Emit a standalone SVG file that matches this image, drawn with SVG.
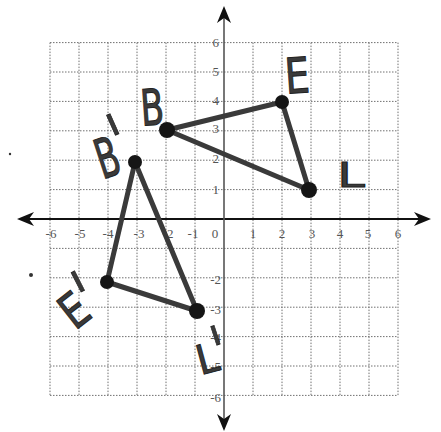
<svg xmlns="http://www.w3.org/2000/svg" width="441" height="432" viewBox="0 0 441 432">
<style>
.grid{stroke:#707070;stroke-width:1;stroke-dasharray:1.5 1.5;fill:none}
.edge{stroke:#3a3a3a;stroke-width:5;stroke-linecap:round;fill:none}
.vtx{fill:#151515}
.tick{font-family:"Liberation Serif",serif;font-size:13px;fill:#555}
.hand{font-family:"DejaVu Sans",sans-serif;fill:#3a3a3a;stroke:#222;stroke-width:1;text-anchor:middle}
.axis{stroke:#111;stroke-width:2}
.arrow{fill:#111}
</style>
<rect width="441" height="432" fill="#fff"/>
<g id="grid">
<path class="grid" d="M50 42.6V395.4M79 42.6V395.4M108 42.6V395.4M137 42.6V395.4M166 42.6V395.4M195 42.6V395.4M253 42.6V395.4M282 42.6V395.4M311 42.6V395.4M340 42.6V395.4M369 42.6V395.4M398 42.6V395.4"/>
<path class="grid" d="M50 42.6H398M50 72H398M50 101.4H398M50 130.8H398M50 160.2H398M50 189.6H398M50 248.4H398M50 277.8H398M50 307.2H398M50 336.6H398M50 366H398M50 395.4H398"/>
</g>
<g id="ticks" class="tick">
<g text-anchor="middle">
<text x="51" y="238">-6</text><text x="80" y="238">-5</text><text x="108" y="238">-4</text><text x="139" y="238">-3</text><text x="168" y="238">-2</text><text x="193" y="238">-1</text><text x="215" y="238">0</text>
<text x="253" y="238">1</text><text x="282" y="238">2</text><text x="312" y="238">3</text><text x="340" y="238">4</text><text x="368" y="238">5</text><text x="398" y="238">6</text>
</g>
<g text-anchor="end">
<text x="219" y="47">6</text><text x="219" y="76">5</text><text x="219" y="105">4</text><text x="219" y="133">3</text><text x="219" y="163">2</text><text x="219" y="194">1</text>
<text x="221" y="284">-2</text><text x="221" y="314">-3</text><text x="221" y="342">-4</text><text x="221" y="371">-5</text><text x="221" y="402">-6</text>
</g>
</g>
<g id="axes">
<line class="axis" x1="26" y1="219" x2="422" y2="219"/>
<polygon class="arrow" points="17,219 34,212 29,219 34,226"/>
<polygon class="arrow" points="431,219 414,212 419,219 414,226"/>
<line x1="224" y1="14" x2="224" y2="424" stroke="#555" stroke-width="1.6"/>
<polygon class="arrow" points="224,6 217,23 224,18 231,23"/>
<polygon class="arrow" points="224,431 217,414 224,419 231,414"/>
</g>
<g id="connectors">
<line class="edge" x1="167" y1="130" x2="282" y2="102"/>
<line class="edge" x1="282" y1="102" x2="309" y2="190"/>
<line class="edge" x1="309" y1="190" x2="167" y2="130"/>
<line class="edge" x1="135" y1="162" x2="107" y2="282"/>
<line class="edge" x1="107" y1="282" x2="197" y2="311"/>
<line class="edge" x1="197" y1="311" x2="135" y2="162"/>
</g>
<g id="B"><circle class="vtx" cx="167" cy="130" r="8"/></g>
<g id="E"><circle class="vtx" cx="282" cy="102" r="7"/></g>
<g id="L"><circle class="vtx" cx="309" cy="190" r="8"/></g>
<g id="B-prime"><circle class="vtx" cx="135" cy="162" r="7"/></g>
<g id="E-prime"><circle class="vtx" cx="107" cy="282" r="7"/></g>
<g id="L-prime"><circle class="vtx" cx="197" cy="311" r="8"/></g>
<g id="labels">
<text class="hand" font-size="50" transform="translate(152,107) rotate(-4) scale(0.68,1)" y="18">B</text>
<text class="hand" font-size="49" transform="translate(297,75) rotate(-4) scale(0.8,1)" y="18">E</text>
<text class="hand" font-size="33" transform="translate(351,175) scale(1.5,1)" y="12">L</text>
<g id="label-B-prime">
<text class="hand" font-size="55" transform="translate(107,157) rotate(-18) scale(0.6,1)" y="20">B</text>
<text class="hand" font-size="80" transform="translate(112,123) rotate(-24) scale(0.6,1)" y="49">'</text>
</g>
<g id="label-E-prime">
<text class="hand" font-size="48" transform="translate(74,310) rotate(-38) scale(0.8,1)" y="17">E</text>
<text class="hand" font-size="80" transform="translate(77,280) rotate(-27) scale(0.6,1)" y="49">'</text>
</g>
<g id="label-L-prime">
<text class="hand" font-size="41" transform="translate(207,358) rotate(-15) scale(0.95,1)" y="15">L</text>
<text class="hand" font-size="72" transform="translate(215,334) rotate(-18) scale(0.6,1)" y="44">'</text>
</g>
</g>
<circle cx="10" cy="154" r="1.2" fill="#333"/>
<circle cx="31" cy="275" r="2" fill="#333"/>
</svg>
